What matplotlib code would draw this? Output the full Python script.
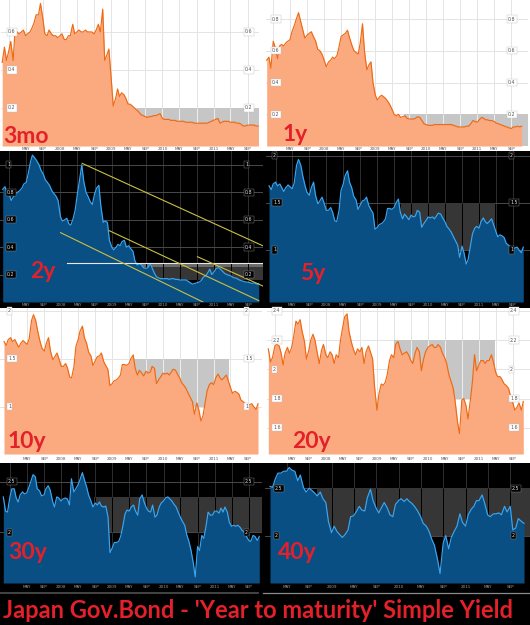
import matplotlib
matplotlib.use("Agg")
import matplotlib.pyplot as plt
import matplotlib.dates as mdates
import matplotlib.patches as mpatches
import pandas as pd

W, H = 530, 625

# ---------------- data ----------------
dates_main = pd.date_range("2006-11-15", periods=121, freq="SMS")
dates_40y = pd.date_range("2008-02-01", periods=92, freq="SMS")

yield_3mo = [0.44, 0.52, 0.45, 0.50, 0.55, 0.45, 0.61, 0.60, 0.59, 0.60,
             0.61, 0.58, 0.59, 0.60, 0.62, 0.65, 0.69, 0.69, 0.75, 0.67,
             0.59, 0.58, 0.61, 0.59, 0.58, 0.58, 0.57, 0.58, 0.59, 0.56,
             0.56, 0.58, 0.58, 0.64, 0.59, 0.60, 0.61, 0.60, 0.60, 0.61,
             0.60, 0.60, 0.60, 0.59, 0.61, 0.64, 0.60, 0.72, 0.45, 0.48,
             0.51, 0.35, 0.21, 0.25, 0.30, 0.26, 0.28, 0.27, 0.25, 0.22,
             0.22, 0.21, 0.20, 0.19, 0.18, 0.165, 0.16, 0.155, 0.15, 0.155,
             0.155, 0.16, 0.16, 0.165, 0.17, 0.145, 0.14, 0.14, 0.14, 0.135,
             0.135, 0.135, 0.13, 0.13, 0.13, 0.13, 0.125, 0.125, 0.125, 0.125,
             0.12, 0.12, 0.12, 0.12, 0.12, 0.12, 0.12, 0.125, 0.13, 0.135,
             0.14, 0.145, 0.12, 0.125, 0.13, 0.13, 0.13, 0.125, 0.125, 0.125,
             0.12, 0.12, 0.115, 0.105, 0.105, 0.11, 0.11, 0.11, 0.11, 0.105,
             0.105]

yield_1y = [0.54, 0.56, 0.49, 0.66, 0.62, 0.55, 0.63, 0.64, 0.63, 0.65,
            0.66, 0.67, 0.72, 0.76, 0.80, 0.84, 0.79, 0.73, 0.68, 0.70,
            0.71, 0.72, 0.69, 0.66, 0.61, 0.60, 0.58, 0.54, 0.50, 0.53,
            0.54, 0.56, 0.55, 0.57, 0.62, 0.69, 0.70, 0.71, 0.73, 0.68,
            0.64, 0.60, 0.59, 0.58, 0.65, 0.77, 0.60, 0.48, 0.51, 0.53,
            0.40, 0.32, 0.29, 0.31, 0.32, 0.31, 0.30, 0.28, 0.26, 0.23,
            0.20, 0.19, 0.20, 0.18, 0.185, 0.19, 0.175, 0.17, 0.17, 0.17,
            0.175, 0.185, 0.18, 0.16, 0.14, 0.135, 0.13, 0.13, 0.13, 0.135,
            0.135, 0.135, 0.135, 0.135, 0.135, 0.135, 0.135, 0.135, 0.13, 0.125,
            0.12, 0.12, 0.12, 0.12, 0.125, 0.125, 0.14, 0.16, 0.155, 0.15,
            0.165, 0.18, 0.175, 0.165, 0.165, 0.16, 0.16, 0.155, 0.145, 0.14,
            0.135, 0.13, 0.125, 0.12, 0.115, 0.11, 0.12, 0.12, 0.125, 0.12,
            0.125]

yield_2y = [0.82, 0.84, 0.80, 0.78, 0.74, 0.77, 0.79, 0.80, 0.81, 0.83,
            0.86, 0.87, 0.93, 1.02, 1.07, 1.05, 1.03, 1.00, 0.96, 0.93,
            0.89, 0.87, 0.85, 0.81, 0.79, 0.77, 0.74, 0.62, 0.59, 0.60,
            0.61, 0.57, 0.56, 0.61, 0.67, 0.79, 0.88, 1.00, 0.88, 0.80,
            0.77, 0.73, 0.71, 0.79, 0.83, 0.85, 0.70, 0.58, 0.59, 0.58,
            0.45, 0.40, 0.38, 0.40, 0.42, 0.41, 0.44, 0.45, 0.40, 0.41,
            0.39, 0.37, 0.30, 0.27, 0.28, 0.27, 0.25, 0.245, 0.25, 0.28,
            0.25, 0.21, 0.185, 0.175, 0.17, 0.17, 0.17, 0.17, 0.165, 0.17,
            0.17, 0.165, 0.165, 0.16, 0.16, 0.16, 0.16, 0.15, 0.14, 0.13,
            0.135, 0.14, 0.145, 0.155, 0.18, 0.19, 0.21, 0.24, 0.20, 0.22,
            0.245, 0.25, 0.24, 0.225, 0.21, 0.20, 0.195, 0.19, 0.18, 0.175,
            0.17, 0.16, 0.155, 0.15, 0.145, 0.145, 0.14, 0.135, 0.14, 0.13,
            0.135]

yield_10y = [1.68, 1.64, 1.70, 1.72, 1.68, 1.70, 1.66, 1.62, 1.66, 1.69,
             1.67, 1.65, 1.71, 1.90, 1.96, 1.90, 1.79, 1.68, 1.61, 1.58,
             1.66, 1.72, 1.58, 1.49, 1.52, 1.56, 1.50, 1.42, 1.42, 1.45,
             1.40, 1.31, 1.30, 1.42, 1.63, 1.70, 1.79, 1.84, 1.72, 1.66,
             1.57, 1.53, 1.43, 1.48, 1.52, 1.53, 1.56, 1.47, 1.43, 1.39,
             1.22, 1.24, 1.27, 1.28, 1.30, 1.33, 1.44, 1.44, 1.43, 1.45,
             1.50, 1.54, 1.40, 1.33, 1.38, 1.35, 1.32, 1.37, 1.35, 1.36,
             1.42, 1.40, 1.24, 1.28, 1.31, 1.35, 1.34, 1.35, 1.33, 1.36,
             1.39, 1.38, 1.34, 1.30, 1.25, 1.22, 1.19, 1.14, 1.10, 1.05,
             0.92, 1.04, 0.97, 0.85, 0.90, 1.05, 1.17, 1.23, 1.25, 1.23,
             1.30, 1.34, 1.30, 1.28, 1.30, 1.33, 1.27, 1.20, 1.14, 1.16,
             1.15, 1.13, 1.07, 1.05, 1.03, 1.01, 1.02, 1.03, 1.00, 0.97,
             1.03]

# the source picture shows the very same curve in its 5y panel
yield_5y = list(yield_10y)

yield_20y = [2.14, 2.05, 2.08, 2.16, 2.17, 2.16, 2.11, 2.03, 2.11, 2.15,
             2.11, 2.15, 2.22, 2.33, 2.31, 2.34, 2.26, 2.19, 2.07, 2.13,
             2.20, 2.24, 2.20, 2.11, 2.04, 2.13, 2.17, 2.10, 2.08, 2.12,
             2.10, 2.04, 2.10, 2.08, 2.20, 2.29, 2.36, 2.38, 2.26, 2.19,
             2.14, 2.10, 2.14, 2.12, 2.15, 2.04, 2.12, 2.16, 2.12, 2.07,
             1.88, 1.72, 1.83, 1.90, 1.89, 1.91, 1.96, 2.06, 2.10, 2.08,
             2.17, 2.19, 2.14, 2.10, 2.11, 2.12, 2.10, 2.06, 2.04, 2.11,
             2.15, 2.12, 1.99, 2.07, 2.12, 2.15, 2.16, 2.17, 2.15, 2.15,
             2.17, 2.15, 2.11, 2.08, 2.04, 1.96, 1.92, 1.87, 1.78, 1.64,
             1.56, 1.79, 1.80, 1.75, 1.66, 1.79, 1.91, 2.10, 1.99, 2.03,
             2.06, 2.06, 2.04, 2.06, 2.06, 2.10, 2.05, 1.98, 1.95, 1.95,
             1.93, 1.90, 1.89, 1.87, 1.82, 1.77, 1.72, 1.74, 1.77, 1.72,
             1.78]

yield_30y = [2.35, 2.21, 2.20, 2.35, 2.43, 2.43, 2.34, 2.30, 2.37, 2.40,
             2.38, 2.39, 2.44, 2.51, 2.57, 2.55, 2.43, 2.41, 2.36, 2.37,
             2.43, 2.46, 2.42, 2.31, 2.25, 2.35, 2.34, 2.31, 2.33, 2.34,
             2.33, 2.27, 2.53, 2.40, 2.43, 2.47, 2.52, 2.59, 2.52, 2.45,
             2.37, 2.31, 2.25, 2.29, 2.27, 2.30, 2.26, 2.25, 2.26, 2.15,
             1.80, 1.85, 1.90, 1.90, 1.91, 1.96, 2.05, 2.18, 2.22, 2.21,
             2.25, 2.27, 2.21, 2.17, 2.33, 2.37, 2.30, 2.24, 2.21, 2.20,
             2.27, 2.15, 2.17, 2.25, 2.29, 2.31, 2.34, 2.35, 2.33, 2.31,
             2.28, 2.25, 2.20, 2.15, 2.11, 2.07, 1.98, 1.91, 1.83, 1.70,
             1.56, 1.86, 1.82, 1.97, 1.94, 2.07, 2.20, 2.17, 2.17, 2.21,
             2.21, 2.19, 2.24, 2.20, 2.25, 2.20, 2.10, 2.06, 2.07, 2.06,
             2.07, 2.05, 2.02, 2.00, 1.96, 1.92, 1.91, 1.97, 1.96, 1.92,
             1.96]

yield_40y = [2.52, 2.51, 2.60, 2.66, 2.66, 2.68, 2.68, 2.72, 2.69, 2.68,
             2.58, 2.64, 2.51, 2.46, 2.50, 2.48, 2.45, 2.42, 2.46, 2.39,
             2.35, 2.15, 2.03, 2.10, 2.04, 2.01, 1.98, 2.01, 2.06, 2.20,
             2.21, 2.25, 2.31, 2.27, 2.26, 2.40, 2.49, 2.37, 2.29, 2.24,
             2.30, 2.35, 2.29, 2.22, 2.20, 2.33, 2.37, 2.39, 2.36, 2.39,
             2.36, 2.34, 2.30, 2.26, 2.20, 2.13, 2.10, 2.05, 1.96, 1.90,
             1.75, 1.60, 1.92, 2.00, 1.86, 1.98, 2.05, 2.10, 2.23, 2.14,
             2.10, 2.22, 2.28, 2.31, 2.37, 2.37, 2.43, 2.34, 2.22, 2.20,
             2.23, 2.23, 2.24, 2.22, 2.31, 2.25, 2.31, 2.06, 2.08, 2.18,
             2.15, 2.13]

ticks_3mo = [0.2, 0.4, 0.6]
ticks_1y = [0.2, 0.4, 0.6, 0.8]
ticks_2y = [0.2, 0.4, 0.6, 0.8, 1.0]
ticks_5y = [1.0, 1.5, 2.0]
ticks_10y = [1.0, 1.5, 2.0]
ticks_20y = [1.6, 1.8, 2.0, 2.2, 2.4]
ticks_30y = [2.0, 2.5]
ticks_40y = [2.0, 2.5]

# shaded comparison boxes: (start, end, low, high)
shade_3mo = ("2009-07-01", "2012-02-01", 0.0, 0.2)
shade_1y = ("2009-07-24", "2012-02-01", 0.0, 0.2)
shade_2y = ("2009-07-01", "2012-02-01", 0.16, 0.285)
shade_5y = ("2009-06-19", "2011-04-27", 1.0, 1.5)
shade_10y = ("2009-06-07", "2011-04-22", 1.0, 1.5)
shade_20y = ("2009-05-03", "2011-04-27", 1.8, 2.2)
shade_30y = ("2008-08-22", "2012-02-01", 2.0, 2.35)
shade_40y = ("2008-10-12", "2012-02-01", 2.0, 2.5)

# hand-drawn channel lines on the 2y chart: (start date, value, end date, value)
trend_2y = [("2008-06-04", 1.01, "2012-01-04", 0.40),
            ("2008-01-02", 0.505, "2010-10-13", 0.0),
            ("2008-12-13", 0.52, "2011-11-16", 0.01),
            ("2010-09-04", 0.33, "2012-01-04", 0.107)]
level_2y = ("2008-02-19", "2012-02-01", 0.285)

TITLE = "Japan Gov.Bond - 'Year to maturity' Simple Yield"

# ---------------- styling ----------------
LIGHT = dict(bg="white", fill="#fbaa7f", line="#ee6a14", grid="#e4e4e4",
             shade="#c6c6c6", lab_fc="white", lab_ec="#c0c0c0", lab_tc="#555555",
             xt="#555555")
DARK = dict(bg="black", fill="#0a4f84", line="#3aa6f2", grid="#2e2e2e",
            shade="#363636", lab_fc="black", lab_ec="#8a8a8a", lab_tc="#dddddd",
            xt="#9a9a9a")
RED = "#e4202b"
FONT = ["Lato", "DejaVu Sans"]

fig = plt.figure(figsize=(W / 100, H / 100), dpi=100)
fig.patch.set_facecolor("white")

# dark background strips (rows 2 and 4, title band)
for (y0, y1) in [(151, 308), (463, 625)]:
    fig.add_artist(mpatches.Rectangle((0, 1 - y1 / H), 1, (y1 - y0) / H,
                                      transform=fig.transFigure,
                                      facecolor="black", edgecolor="none",
                                      zorder=-10))
# separator lines above title
fig.add_artist(plt.Line2D([0, 258 / W], [1 - 592.5 / H] * 2, color="#4a4a4a",
                          lw=1.3, transform=fig.transFigure, zorder=5))
fig.add_artist(plt.Line2D([263 / W, 1], [1 - 593 / H] * 2, color="#8a8a8a",
                          lw=0.9, transform=fig.transFigure, zorder=5))

panels = [
    dict(name="3mo", d=dates_main, v=yield_3mo, th=LIGHT, box=(1, 0, 259, 146),
         px=(2.2, 258.2), ylim=(0.0, 0.768), ticks=ticks_3mo, shade=shade_3mo,
         lab=(8, 245), xty=148.5, txt=(3, 143)),
    dict(name="1y", d=dates_main, v=yield_1y, th=LIGHT, box=(266, 0, 528, 146),
         px=(266.7, 521.7), ylim=(0.0, 0.92), ticks=ticks_1y, shade=shade_1y,
         lab=(272, 508), xty=148.5, txt=(283, 141)),
    dict(name="2y", d=dates_main, v=yield_2y, th=DARK, box=(0, 151, 263, 302),
         px=(2.7, 258.7), ylim=(0.0, 1.10), ticks=ticks_2y, shade=shade_2y,
         lab=(7, 245), xty=304.5, txt=(30, 278)),
    dict(name="5y", d=dates_main, v=yield_5y, th=DARK, box=(266, 151, 530, 302),
         px=(269, 523.3), ylim=(0.447, 2.05), ticks=ticks_5y, shade=shade_5y,
         lab=(273, 510), xty=304.5, txt=(300, 280)),
    dict(name="10y", d=dates_main, v=yield_10y, th=LIGHT, box=(0, 308, 262, 454),
         px=(4, 258), ylim=(0.505, 2.03), ticks=ticks_10y, shade=shade_10y,
         lab=(8, 245), xty=458.5, txt=(8, 448)),
    dict(name="20y", d=dates_main, v=yield_20y, th=LIGHT, box=(267, 308, 530, 454),
         px=(268.3, 523.3), ylim=(1.42, 2.42), ticks=ticks_20y, shade=shade_20y,
         lab=(273, 510), xty=458.5, txt=(292, 448)),
    dict(name="30y", d=dates_main, v=yield_30y, th=DARK, box=(0, 463, 262, 583),
         px=(3.3, 259.3), ylim=(1.50, 2.685), ticks=ticks_30y, shade=shade_30y,
         lab=(8, 245), xty=587.5, txt=(8, 559)),
    dict(name="40y", d=dates_40y, v=yield_40y, th=DARK, box=(265, 463, 530, 583),
         px=(270, 524), ylim=(1.50, 2.767), ticks=ticks_40y, shade=shade_40y,
         lab=(275, 512), xty=587.5, txt=(278, 559)),
]

grid_dates = [pd.Timestamp(f"{y}-{m:02d}-01") for y in range(2007, 2012) for m in (1, 5, 9)]


def fmt(v):
    s = f"{v:.1f}"
    return s[:-2] if s.endswith(".0") else s


for p in panels:
    th = p["th"]
    l, t, r, b = p["box"]
    ax = fig.add_axes([l / W, 1 - b / H, (r - l) / W, (b - t) / H])
    ax.set_facecolor(th["bg"])
    for s in ax.spines.values():
        s.set_visible(False)
    ax.set_xticks([])
    ax.set_yticks([])

    xd = mdates.date2num(p["d"])
    d0, d1 = xd[0], xd[-1]
    pa, pb = p["px"]
    sc = (d1 - d0) / (pb - pa)
    xlo, xhi = d0 - (pa - l) * sc, d1 + (r - pb) * sc
    ax.set_xlim(xlo, xhi)
    ax.set_ylim(*p["ylim"])

    # grid
    gnum = [mdates.date2num(g) for g in grid_dates]
    gnum = [g for g in gnum if xlo < g < xhi]
    for g in gnum:
        ax.axvline(g, color=th["grid"], lw=0.7, zorder=0.5)
    for tv in p["ticks"]:
        ax.axhline(tv, color=th["grid"] if th is LIGHT else "#4a4a4a",
                   lw=0.7, zorder=0.5)

    # shaded box
    s0, s1, lo, hi = p["shade"]
    a0, a1 = mdates.date2num(pd.Timestamp(s0)), mdates.date2num(pd.Timestamp(s1))
    ax.add_patch(mpatches.Rectangle((a0, lo), a1 - a0, hi - lo, facecolor=th["shade"],
                                    edgecolor="none", zorder=1))
    gin = [g for g in gnum if a0 < g < a1]
    if gin:
        ax.vlines(gin, lo, hi, color=th["bg"] if th is DARK else "#eeeeee",
                  lw=0.7, zorder=1.2)

    if p["name"] == "2y":
        ax.add_patch(mpatches.Rectangle((a0, 0.252), a1 - a0, 0.033, facecolor="#6a6a6a",
                                        edgecolor="none", zorder=1.1))
        e0, e1, lv = level_2y
        ax.plot([mdates.date2num(pd.Timestamp(e0)), mdates.date2num(pd.Timestamp(e1))],
                [lv, lv], color="#e8e8e8", lw=0.8, zorder=4)

    # area + line
    ax.fill_between(xd, p["v"], p["ylim"][0], color=th["fill"], lw=0, zorder=2)
    ax.plot(xd, p["v"], color=th["line"], lw=0.85, zorder=3)

    if p["name"] == "2y":
        for (sd, sv, ed, ev) in trend_2y:
            ax.plot([mdates.date2num(pd.Timestamp(sd)), mdates.date2num(pd.Timestamp(ed))],
                    [sv, ev], color="#c9c043", lw=0.8, zorder=4)

    # value labels (both sides)
    ll, rr = p["lab"]
    for tv in p["ticks"]:
        for px_ in (ll, rr):
            ax.text((px_ - l) / (r - l), tv, fmt(tv), transform=ax.get_yaxis_transform(),
                    fontsize=3.4, color=th["lab_tc"], ha="left", va="center",
                    family="DejaVu Sans", zorder=6,
                    bbox=dict(boxstyle="square,pad=0.25", fc=th["lab_fc"],
                              ec=th["lab_ec"], lw=0.3))

    # date labels
    for g in gnum:
        fx = (g - xlo) / (xhi - xlo) * (r - l) + l
        if fx - l < 12:
            continue
        dt = mdates.num2date(g)
        lab = str(dt.year) if dt.month == 1 else ("MAY" if dt.month == 5 else "SEP")
        fig.text(fx / W, 1 - p["xty"] / H, lab, fontsize=3.0, color=th["xt"],
                 ha="center", va="center", family="DejaVu Sans")

    # panel name
    tx, ty = p["txt"]
    fig.text(tx / W, 1 - ty / H, p["name"], fontsize=16.5, color=RED,
             fontweight="bold", family=FONT, ha="left", va="baseline", zorder=10)

fig.text(3 / W, 1 - 617.5 / H, TITLE, fontsize=17, color=RED, fontweight="bold",
         family=FONT, ha="left", va="baseline")

fig.savefig("out.png", dpi=100, facecolor=fig.get_facecolor())
